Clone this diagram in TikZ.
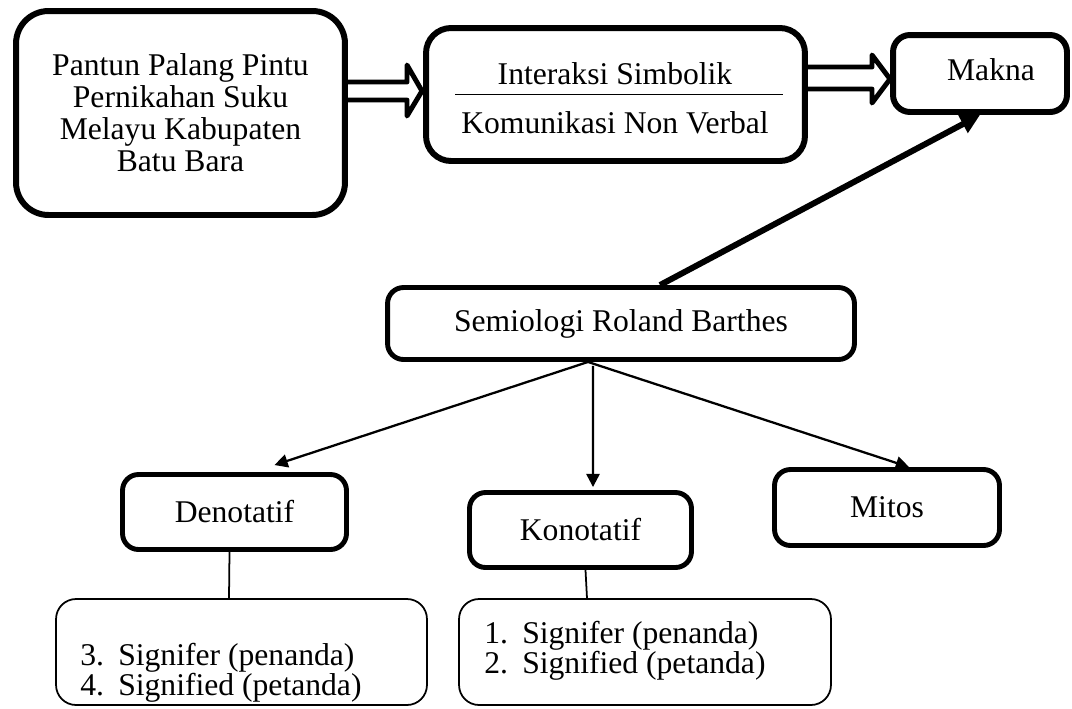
\documentclass[tikz,border=0pt]{standalone}
\usepackage{fontspec}
\setmainfont{Liberation Serif}
\usetikzlibrary{arrows.meta,calc}

\tikzset{
  bigbox/.style={draw, line width=3.4pt, align=center, inner sep=0pt},
  midbox/.style={draw, line width=2.8pt, rounded corners=0.32cm, inner sep=0pt},
  listbox/.style={draw, line width=1pt, rounded corners=0.4cm, inner sep=0pt},
  listtext/.style={anchor=base west, inner sep=0pt},
  hollow/.style={line width=2.8pt, line join=round},
  link/.style={line width=1.3pt, -{Triangle[length=7.5pt,width=7.5pt]}},
  stem/.style={line width=1pt},
}

\begin{document}
\begin{tikzpicture}[x=0.02cm, y=-0.02cm, font=\fontsize{18}{18.2}\selectfont]
    \useasboundingbox (0,0) rectangle (1072,708);

    % Top row
    \node[bigbox, rounded corners=0.65cm, minimum width=6.58cm, minimum height=4.08cm]
        (pantun) at (180.5,113) {Pantun Palang Pintu\\Pernikahan Suku\\Melayu Kabupaten\\Batu Bara};
    \node[bigbox, rounded corners=0.5cm, minimum width=7.58cm, minimum height=2.66cm]
        (interaksi) at (615.5,94.5) {};
    \node[bigbox, rounded corners=0.34cm, minimum width=3.48cm, minimum height=1.54cm]
        (makna) at (980,73.5) {};

    \node[anchor=base] (simbolik) at (615,84) {Interaksi Simbolik};
    \node[anchor=base] (nonverbal) at (615,133) {Komunikasi Non Verbal};
    \node[anchor=base] (maknatxt) at (991,80) {Makna};
    \draw[line width=0.9pt] ($(interaksi.west)+(32,0)$) -- ($(interaksi.east)+(-25,0)$);

    % Hollow arrows
    \draw[hollow] (pantun.east |- 0,82) -- (407,82) -- (407,65) -- (422,91)
        -- (407,116) -- (407,100) -- (pantun.east |- 0,100);
    \draw[hollow] (interaksi.east |- 0,67) -- (872,67) -- (872,55) -- (890,79)
        -- (872,103) -- (872,89) -- (interaksi.east |- 0,89);

    % Middle
    \node[midbox, minimum width=9.34cm, minimum height=1.44cm] (semio) at (621,323.5) {Semiologi Roland Barthes};
    \draw[line width=3.4pt, -{Triangle[length=11pt,width=11pt]}] ($(semio.north)+(39,0)$) -- (makna.south);

    \node[midbox, minimum width=4.48cm, minimum height=1.5cm] (deno) at (234.5,512) {Denotatif};
    \node[midbox, minimum width=4.44cm, minimum height=1.5cm] (kono) at (580.5,530) {Konotatif};
    \node[midbox, minimum width=4.5cm, minimum height=1.52cm] (mitos) at (887,507.5) {Mitos};

    \coordinate (fork) at ($(semio.south)+(-33,0)$);
    \draw[link] (fork) -- ($(deno.north)+(40,-7)$);
    \draw[link] ($(semio.south)+(-28,4)$) -- ($(kono.north)+(12.5,-3)$);
    \draw[link] (fork) -- ($(mitos.north)+(22,0)$);

    % Bottom lists
    \node[listbox, minimum width=7.42cm, minimum height=2.12cm] (denolist) at (241.5,652) {};
    \node[listbox, minimum width=7.44cm, minimum height=2.12cm] (konolist) at (645,652) {};

    \draw[stem] ($(deno.south)+(-5,0)$) -- (denolist.north -| 229,0);
    \draw[stem] ($(kono.south)+(5,0)$) -- ($(konolist.north)+(-58,0)$);

    \node[listtext] (denoA) at (80,665) {\makebox[1.2em][l]{3.}Signifer (penanda)};
    \node[listtext] (denoB) at (80,695) {\makebox[1.2em][l]{4.}Signified (petanda)};
    \node[listtext] (konoA) at (484,643) {\makebox[1.2em][l]{1.}Signifer (penanda)};
    \node[listtext] (konoB) at (484,673) {\makebox[1.2em][l]{2.}Signified (petanda)};
\end{tikzpicture}
\end{document}
